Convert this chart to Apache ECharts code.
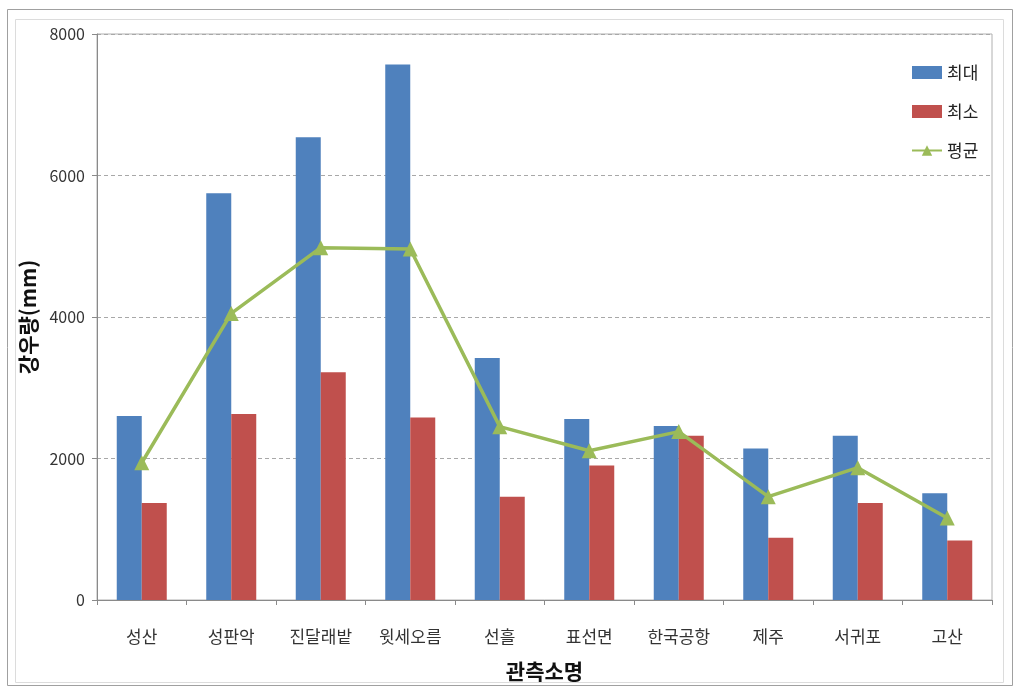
<!DOCTYPE html>
<html>
<head>
<meta charset="utf-8">
<script src="https://cdn.jsdelivr.net/npm/echarts@6/dist/echarts.min.js"></script>
<style>
    html, body { margin: 0; padding: 0; background: #fff; }
    #chart { width: 1017px; height: 690px; }
</style>
</head>
<body>
<div id="chart"></div>
<script>
    // 관측소별 강우량
    const stations = ['성산', '성판악', '진달래밭', '윗세오름', '선흘', '표선면', '한국공항', '제주', '서귀포', '고산']
    const maxRain = [2600, 5750, 6540, 7570, 3420, 2560, 2460, 2140, 2320, 1510]
    const minRain = [1370, 2630, 3220, 2580, 1460, 1900, 2320, 880, 1370, 840]
    const avgRain = [1940, 4050, 4980, 4960, 2450, 2110, 2380, 1460, 1870, 1160]
    const yTicks = [0, 2000, 4000, 6000, 8000]

    const font = '"Noto Sans CJK KR", "Noto Sans", sans-serif'
    const chart = echarts.init(document.getElementById('chart'))

    chart.setOption({
        animation: false,
        backgroundColor: '#fff',
        textStyle: { fontFamily: font },
        graphic: [
            {   // 바깥 테두리
                type: 'rect',
                shape: { x: 7.5, y: 9.5, width: 1005, height: 676 },
                style: { fill: 'none', stroke: '#a0a0a0', lineWidth: 1 },
                silent: true
            },
            {
                type: 'rect',
                shape: { x: 15.5, y: 19.5, width: 988, height: 663 },
                style: { fill: 'none', stroke: '#dcdcdc', lineWidth: 1 },
                silent: true
            }
        ],
        legend: {
            orient: 'vertical',
            left: 906,
            top: 59,
            itemWidth: 30,
            itemHeight: 13,
            itemGap: 22,
            textStyle: { fontSize: 17, color: '#222', fontFamily: font },
            data: [
                { name: '최대', icon: 'rect' },
                { name: '최소', icon: 'rect' },
                { name: '평균' }
            ]
        },
        grid: {
            left: 97,
            right: 25,
            top: 34,
            bottom: 90,
            show: true,
            borderColor: '#b0b0b0',
            borderWidth: 1
        },
        xAxis: {
            type: 'category',
            data: stations,
            name: '관측소명',
            nameLocation: 'middle',
            nameGap: 61,
            nameTextStyle: { fontSize: 21, fontWeight: 'bold', color: '#111', fontFamily: font },
            axisLine: { lineStyle: { color: '#8a8a8a', width: 1 } },
            axisTick: { show: true, length: 5, lineStyle: { color: '#8a8a8a' } },
            axisLabel: { fontSize: 17, color: '#333', margin: 28, fontFamily: font }
        },
        yAxis: {
            type: 'value',
            min: 0,
            max: 8000,
            interval: 2000,
            name: '강우량(mm)',
            nameLocation: 'middle',
            nameGap: 56,
            nameTextStyle: { fontSize: 21, fontWeight: 'bold', color: '#111', fontFamily: font },
            axisLine: { show: true, lineStyle: { color: '#8a8a8a', width: 1 } },
            axisTick: { show: true, length: 5, lineStyle: { color: '#8a8a8a' } },
            axisLabel: {
                fontSize: 16, color: '#333', margin: 12, fontFamily: font,
                formatter: v => yTicks.includes(v) ? String(v) : ''
            },
            splitLine: { show: true, lineStyle: { color: '#a8a8a8', type: [4, 3], width: 1 } }
        },
        series: [
            {
                name: '최대',
                type: 'bar',
                barWidth: 25,
                barGap: '0%',
                itemStyle: { color: '#4F81BD' },
                data: maxRain
            },
            {
                name: '최소',
                type: 'bar',
                barWidth: 25,
                barGap: '0%',
                itemStyle: { color: '#C0504D' },
                data: minRain
            },
            {
                name: '평균',
                type: 'line',
                symbol: 'triangle',
                symbolSize: 15,
                lineStyle: { color: '#9BBB59', width: 3.5 },
                itemStyle: { color: '#9BBB59' },
                data: avgRain,
                z: 5
            }
        ]
    })
</script>
</body>
</html>
